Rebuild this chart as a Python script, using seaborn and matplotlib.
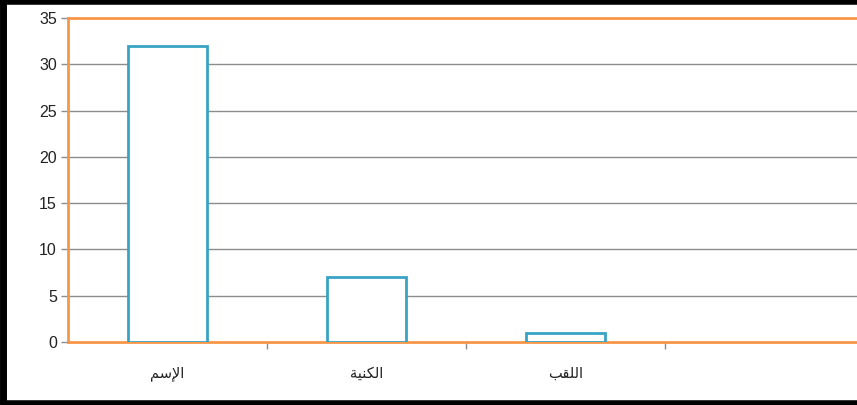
import matplotlib
matplotlib.use("Agg")
import matplotlib.pyplot as plt
from matplotlib.lines import Line2D
import seaborn as sns
import pandas as pd

# Counts per naming element
categories = ["الإسم", "الكنية", "اللقب"]
values = [32, 7, 1]
y_ticks = [0, 5, 10, 15, 20, 25, 30, 35]

# Arabic presentation forms: isolated, final, initial, medial
FORMS = {
    "ا": ("\uFE8D", "\uFE8E", None, None),
    "إ": ("\uFE87", "\uFE88", None, None),
    "ة": ("\uFE93", "\uFE94", None, None),
    "ل": ("\uFEDD", "\uFEDE", "\uFEDF", "\uFEE0"),
    "س": ("\uFEB1", "\uFEB2", "\uFEB3", "\uFEB4"),
    "م": ("\uFEE1", "\uFEE2", "\uFEE3", "\uFEE4"),
    "ك": ("\uFED9", "\uFEDA", "\uFEDB", "\uFEDC"),
    "ن": ("\uFEE5", "\uFEE6", "\uFEE7", "\uFEE8"),
    "ي": ("\uFEF1", "\uFEF2", "\uFEF3", "\uFEF4"),
    "ق": ("\uFED5", "\uFED6", "\uFED7", "\uFED8"),
    "ب": ("\uFE8F", "\uFE90", "\uFE91", "\uFE92"),
}
LAM_ALEF = {"ا": ("\uFEFB", "\uFEFC"), "إ": ("\uFEF9", "\uFEFA")}


def shape(text):
    """Join Arabic letters and return them in display (left-to-right) order."""
    # merge lam + alef into ligature tokens
    tokens = []
    i = 0
    while i < len(text):
        if text[i] == "ل" and i + 1 < len(text) and text[i + 1] in LAM_ALEF:
            tokens.append(("LA", text[i + 1]))
            i += 2
        else:
            tokens.append(("CH", text[i]))
            i += 1

    def joins_left(tok):
        kind, ch = tok
        if kind == "LA":
            return False
        return FORMS[ch][2] is not None

    out = []
    for k, tok in enumerate(tokens):
        prev_joins = k > 0 and joins_left(tokens[k - 1])
        kind, ch = tok
        if kind == "LA":
            iso, fin = LAM_ALEF[ch]
            out.append(fin if prev_joins else iso)
            continue
        iso, fin, ini, med = FORMS[ch]
        next_exists = k + 1 < len(tokens)
        can_left = ini is not None and next_exists
        if prev_joins and can_left:
            out.append(med)
        elif prev_joins:
            out.append(fin)
        elif can_left:
            out.append(ini)
        else:
            out.append(iso)
    return "".join(reversed(out))


df = pd.DataFrame({"category": categories, "count": values})

sns.set_style("white")
plt.rcParams["font.family"] = ["DejaVu Sans"]

fig = plt.figure(figsize=(8.57, 4.05), dpi=100)
ax = fig.add_axes([68 / 857, 1 - 342 / 405, 796 / 857, 324 / 405])

sns.barplot(data=df, x="category", y="count", ax=ax, width=0.4,
            color="white", edgecolor="#38a4c4", linewidth=2.0, zorder=3)

ax.set_xlim(-0.5, 3.5)
ax.set_ylim(0, 35)
ax.set_xlabel("")
ax.set_ylabel("")

# gridlines
for v in y_ticks[1:-1]:
    ax.axhline(v, color="#8c8c8c", lw=1.0, zorder=1)

for side in ["left", "bottom", "top"]:
    ax.spines[side].set_color("#f79646")
    ax.spines[side].set_linewidth(2.0)
ax.spines["right"].set_visible(False)

ax.set_yticks(y_ticks)
ax.set_yticklabels([str(v) for v in y_ticks], fontsize=11.5,
                   fontfamily="Liberation Sans", color="#222222")
ax.tick_params(axis="y", direction="out", length=5, width=1, color="#8c8c8c",
               pad=3, left=True)

ax.set_xticks(range(len(categories)))
ax.set_xticklabels([shape(c) for c in categories], fontsize=10.5, color="#222222")
ax.tick_params(axis="x", which="major", length=0, pad=17, bottom=True)
ax.set_xticks([0.5, 1.5, 2.5], minor=True)
ax.tick_params(axis="x", which="minor", direction="out", length=5, width=1,
               color="#8c8c8c", bottom=True)

# frame around the picture
fig.add_artist(Line2D([0.004, 0.004], [0, 1], transform=fig.transFigure,
                      color="black", lw=5))
fig.add_artist(Line2D([0, 1], [0.995, 0.995], transform=fig.transFigure,
                      color="black", lw=4))
fig.add_artist(Line2D([0, 1], [0.006, 0.006], transform=fig.transFigure,
                      color="black", lw=4))

fig.savefig("out.png", dpi=100)
